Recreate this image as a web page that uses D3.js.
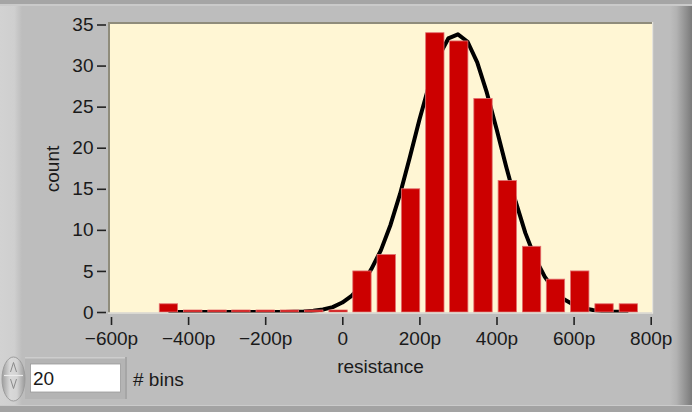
<!DOCTYPE html>
<html>
<head>
<meta charset="utf-8">
<script src="https://cdn.jsdelivr.net/npm/d3@7"></script>
<style>
  html, body { margin: 0; padding: 0; background: #bdbdbd; }
  svg { display: block; }
  text { font-family: "Liberation Sans", Arial, sans-serif; fill: #1a1a1a; }
</style>
</head>
<body>
<svg id="chart" width="692" height="412"></svg>
<script>
// ---- data ----
const binCenters = [-451, -388, -325, -263, -200, -137, -74, -11, 51, 114, 177, 240, 302, 365, 428, 491, 553, 616, 679, 742];
const counts     = [1, 0, 0, 0, 0, 0, 0, 0, 5, 7, 15, 34, 33, 26, 16, 8, 4, 5, 1, 1];

const fitX = [-451, -425, -400, -375, -350, -325, -300, -275, -250, -225, -200, -175, -150, -125, -100, -75, -50, -25,
              0, 25, 50, 75, 100, 125, 150, 175, 200, 225, 250, 275, 300, 325, 350, 375, 400, 425, 450, 475,
              500, 525, 550, 575, 600, 625, 650, 675, 700, 725, 742];
const fitY = [0, 0, 0, 0, 0, 0, 0, 0, 0, 0, 0, 0, 0.01, 0.03, 0.06, 0.14, 0.3, 0.6,
              1.15, 2.0, 3.3, 5.2, 7.5, 10.6, 14.4, 18.8, 23.4, 27.6, 31.1, 33.3, 33.8, 32.9, 30.4, 26.7, 22.3, 17.7, 13.4, 9.6,
              6.6, 4.3, 2.65, 1.56, 0.88, 0.47, 0.24, 0.11, 0.05, 0.02, 0.01];

const xTickValues = [-600, -400, -200, 0, 200, 400, 600, 800];
const xTickLabels = ["\u2212600p", "\u2212400p", "\u2212200p", "0", "200p", "400p", "600p", "800p"];
const yTickValues = [0, 5, 10, 15, 20, 25, 30, 35];
const yTickLabels = ["0", "5", "10", "15", "20", "25", "30", "35"];

const xLabel = "resistance";
const yLabel = "count";
const binsValue = "20";
const binsLabel = "# bins";

// ---- drawing ----
const svg = d3.select("#chart");
const W = 692, H = 412;
const plot = { left: 110, right: 652, top: 24, bottom: 312.5 };

const defs = svg.append("defs");
const gl = defs.append("linearGradient").attr("id", "leftEdge").attr("x1", 0).attr("x2", 1).attr("y1", 0).attr("y2", 0);
gl.append("stop").attr("offset", "0").attr("stop-color", "#d2d2d2");
gl.append("stop").attr("offset", "0.65").attr("stop-color", "#cfcfcf");
gl.append("stop").attr("offset", "1").attr("stop-color", "#bdbdbd");
const gr = defs.append("linearGradient").attr("id", "rightEdge").attr("x1", 0).attr("x2", 1).attr("y1", 0).attr("y2", 0);
gr.append("stop").attr("offset", "0").attr("stop-color", "#bdbdbd");
gr.append("stop").attr("offset", "0.3").attr("stop-color", "#b2b2b2");
gr.append("stop").attr("offset", "1").attr("stop-color", "#7a7a7a");
const gs = defs.append("linearGradient").attr("id", "spin").attr("x1", 0).attr("x2", 1).attr("y1", 0).attr("y2", 0);
gs.append("stop").attr("offset", "0").attr("stop-color", "#9e9e9e");
gs.append("stop").attr("offset", "0.35").attr("stop-color", "#d9d9d9");
gs.append("stop").attr("offset", "0.65").attr("stop-color", "#d4d4d4");
gs.append("stop").attr("offset", "1").attr("stop-color", "#9a9a9a");
defs.append("clipPath").attr("id", "plotClip")
  .append("rect").attr("x", plot.left).attr("y", plot.top)
  .attr("width", plot.right - plot.left).attr("height", plot.bottom - plot.top);

// panel
svg.append("rect").attr("width", W).attr("height", H).attr("fill", "#bdbdbd");
svg.append("rect").attr("x", 0).attr("y", 0).attr("width", 22).attr("height", H).attr("fill", "url(#leftEdge)");
svg.append("rect").attr("x", 670).attr("y", 6).attr("width", 22).attr("height", H - 6).attr("fill", "url(#rightEdge)");
svg.append("rect").attr("x", 0).attr("y", 0).attr("width", W).attr("height", 4).attr("fill", "#a5a5a5");
svg.append("rect").attr("x", 0).attr("y", 4).attr("width", W).attr("height", 2).attr("fill", "#cacaca");
svg.append("rect").attr("x", 0).attr("y", 405).attr("width", W).attr("height", 1).attr("fill", "#cbcbcb");
svg.append("rect").attr("x", 0).attr("y", 406).attr("width", W).attr("height", 6).attr("fill", "#a3a3a3");

// plot area
svg.append("rect").attr("x", plot.left).attr("y", plot.top)
  .attr("width", plot.right - plot.left).attr("height", plot.bottom - plot.top).attr("fill", "#fff6d4");
svg.append("rect").attr("x", plot.left - 2).attr("y", plot.top - 2).attr("width", plot.right - plot.left + 2).attr("height", 2).attr("fill", "#8f8c7b");
svg.append("rect").attr("x", plot.left - 2).attr("y", plot.top - 2).attr("width", 2).attr("height", plot.bottom - plot.top + 2).attr("fill", "#8f8c7b");
svg.append("rect").attr("x", plot.left - 2).attr("y", plot.bottom).attr("width", plot.right - plot.left + 3).attr("height", 1.2).attr("fill", "#e6e4dc");
svg.append("rect").attr("x", plot.right).attr("y", plot.top - 2).attr("width", 1.2).attr("height", plot.bottom - plot.top + 3).attr("fill", "#e6e4dc");

const x = d3.scaleLinear().domain([-600, 800]).range([111, 650.7]);
const y = d3.scaleLinear().domain([0, 35]).range([312, 24.5]);

const g = svg.append("g").attr("clip-path", "url(#plotClip)");

// fitted curve (behind bars)
const fit = fitX.map((v, i) => [v, fitY[i]]);
g.append("path").datum(fit)
  .attr("fill", "none").attr("stroke", "#000").attr("stroke-width", 4).attr("stroke-linejoin", "round")
  .attr("d", d3.line().x(d => x(d[0])).y(d => y(d[1])));

// bars
const binW = x(binCenters[1]) - x(binCenters[0]);
const barW = binW * 0.755;
g.selectAll("rect.bar").data(binCenters).enter().append("rect").attr("class", "bar")
  .attr("x", (d) => x(d) - barW / 2)
  .attr("width", barW)
  .attr("y", (d, i) => Math.min(y(counts[i]), y(0) - 2))
  .attr("height", (d, i) => Math.max(y(0) - y(counts[i]), 2))
  .attr("fill", "#cc0000")
  .attr("stroke", "#e27070").attr("stroke-width", 0.8);

// axes
const xAxis = svg.append("g").attr("transform", "translate(0,317)")
  .call(d3.axisBottom(x).tickValues(xTickValues).tickFormat((d, i) => xTickLabels[i]).tickSize(8).tickPadding(7));
const yAxis = svg.append("g").attr("transform", "translate(106,0)")
  .call(d3.axisLeft(y).tickValues(yTickValues).tickFormat((d, i) => yTickLabels[i]).tickSize(9).tickPadding(3.5));
[xAxis, yAxis].forEach(a => {
  a.select(".domain").remove();
  a.selectAll(".tick line").attr("stroke", "#222").attr("stroke-width", 1.6);
  a.selectAll(".tick text").style("font-family", "'Liberation Sans', Arial, sans-serif")
    .style("font-size", "19px").attr("fill", "#1a1a1a");
});

// axis labels
svg.append("text").attr("x", 380.5).attr("y", 373).attr("text-anchor", "middle")
  .style("font-size", "19px").text(xLabel);
svg.append("text").attr("transform", "translate(59,169) rotate(-90)").attr("text-anchor", "middle")
  .style("font-size", "19px").text(yLabel);

// # bins numeric control
svg.append("rect").attr("x", 25).attr("y", 357).attr("width", 102).attr("height", 42).attr("fill", "#b4b4b4");
svg.append("rect").attr("x", 25).attr("y", 357).attr("width", 102).attr("height", 1.5).attr("fill", "#cdcdcd");
svg.append("rect").attr("x", 125).attr("y", 357).attr("width", 2).attr("height", 42).attr("fill", "#a6a6a6");
svg.append("rect").attr("x", 30.5).attr("y", 364).attr("width", 90).attr("height", 28).attr("fill", "#ffffff")
  .attr("stroke", "#9a9a9a").attr("stroke-width", 0.8);
svg.append("ellipse").attr("cx", 13.5).attr("cy", 379).attr("rx", 11.5).attr("ry", 22)
  .attr("fill", "url(#spin)").attr("stroke", "#9c9c9c").attr("stroke-width", 1);
svg.append("path").attr("d", "M4,375.5 L23,375.5").attr("stroke", "#ececec").attr("stroke-width", 1.2);
svg.append("path").attr("d", "M10.5,372 L13.5,362.5 L16.5,372").attr("fill", "none").attr("stroke", "#8a8a8a").attr("stroke-width", 1);
svg.append("path").attr("d", "M10.5,379 L13.5,388.5 L16.5,379").attr("fill", "none").attr("stroke", "#8a8a8a").attr("stroke-width", 1);
svg.append("text").attr("x", 33).attr("y", 385).style("font-size", "19px").text(binsValue);
svg.append("text").attr("x", 133).attr("y", 386).style("font-size", "19px").text(binsLabel);
</script>
</body>
</html>
